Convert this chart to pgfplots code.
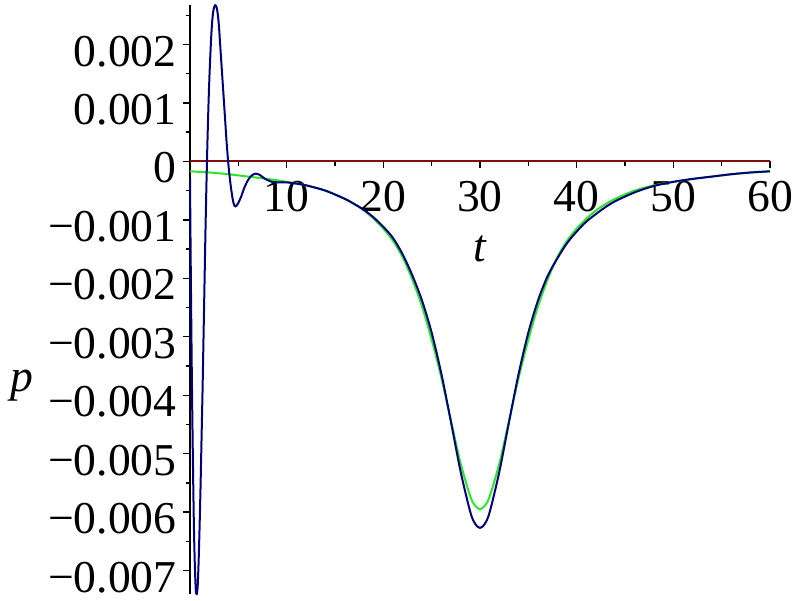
\documentclass[border=0pt]{standalone}
\usepackage{pgfplots}
\pgfplotsset{compat=1.18}
\usepackage{fontspec}
\setmainfont{Liberation Serif}
\definecolor{mred}{RGB}{130,15,15}
\definecolor{mgreen}{RGB}{40,230,40}
\definecolor{mblue}{RGB}{0,0,120}
\begin{document}
\begin{tikzpicture}
\begin{axis}[
  scale only axis,
  width=290pt, height=294.5pt,
  xmin=0, xmax=60, ymin=-0.0074, ymax=0.002675,
  axis lines=middle,
  clip=false,
  hide obscured x ticks=false,
  hide obscured y ticks=false,
  axis line style={-, line width=0.8pt, black},
  scaled ticks=false,
  xtick={10,20,30,40,50,60},
  minor xtick={5,15,25,35,45,55},
  ytick={-0.007,-0.006,-0.005,-0.004,-0.003,-0.002,-0.001,0,0.001,0.002},
  yticklabels={−0.007,−0.006,−0.005,−0.004,−0.003,−0.002,−0.001,0,0.001,0.002},
  minor ytick={-0.0065,-0.0055,-0.0045,-0.0035,-0.0025,-0.0015,-0.0005,0.0005,0.0015,0.0025},
  tick align=outside,
  major tick length=3.5pt,
  minor tick length=2.2pt,
  tick style={line width=0.7pt, black},
  tick label style={font=\fontsize{22.8}{27}\selectfont},
  xticklabel style={anchor=base, yshift=-21.5pt, inner sep=0pt},
  yticklabel style={anchor=base east, xshift=-3pt, yshift=-10.8pt, inner sep=0pt},
  /pgf/number format/assume math mode=true,
]
\addplot[mred, line width=1pt] coordinates {(0,0) (60,0)};
\addplot[mgreen, line width=1pt, smooth] coordinates {
(0,-0.00017) (2,-0.00019) (4,-0.00022) (6,-0.00026) (8,-0.00030) (10,-0.00035)
(12,-0.00041) (14,-0.00050) (16,-0.00064) (17,-0.00073) (18,-0.00084) (19,-0.00098)
(20,-0.00115) (21,-0.00136) (22,-0.00164) (23,-0.00202) (24,-0.00248) (25,-0.00305)
(26,-0.00370) (27,-0.00444) (28,-0.00517) (29,-0.00573) (29.5,-0.00589) (30,-0.00595)
(30.5,-0.00589) (31,-0.00573) (32,-0.00517) (33,-0.00444) (34,-0.00370) (35,-0.00305)
(36,-0.00248) (37,-0.00202) (38,-0.00164) (39,-0.00136) (40,-0.00115) (41,-0.00098)
(42,-0.00084) (43,-0.00073) (44,-0.00064) (46,-0.00050) (48,-0.00041) (50,-0.00035)
(52,-0.00030) (54,-0.00026) (56,-0.00022) (58,-0.00019) (60,-0.00017)};
\addplot[mblue, line width=1pt, smooth] coordinates {
(0,-0.00030) (0.1,-0.0022) (0.2,-0.0038) (0.3,-0.0051) (0.4,-0.0062) (0.5,-0.0069)
(0.6,-0.00733) (0.7,-0.00740) (0.8,-0.00725) (0.9,-0.0068) (1.0,-0.0062) (1.1,-0.0055)
(1.2,-0.0047) (1.3,-0.0039) (1.4,-0.0030) (1.5,-0.0021) (1.6,-0.0012) (1.7,-0.0004)
(1.8,0.0003) (1.9,0.0009) (2.0,0.0014) (2.1,0.0018) (2.2,0.00215) (2.3,0.0024)
(2.4,0.00256) (2.5,0.00264) (2.6,0.00267) (2.7,0.00266) (2.8,0.0026) (2.9,0.00248)
(3.0,0.0023) (3.2,0.0018) (3.4,0.0013) (3.6,0.0008) (3.8,0.0003) (4.0,-0.0001)
(4.2,-0.0004) (4.4,-0.00063) (4.5,-0.00071) (4.6,-0.00076) (4.7,-0.00077) (4.8,-0.00076)
(5.0,-0.00071) (5.3,-0.0006) (5.6,-0.00046) (6.0,-0.00032) (6.4,-0.00024) (6.8,-0.00021)
(7.2,-0.00023) (7.6,-0.00028) (8.0,-0.00032) (8.5,-0.00035) (9.0,-0.00036) (10.0,-0.00036)
(11.0,-0.00038) (12,-0.00041) (14,-0.00050) (16,-0.00064) (17,-0.00073) (18,-0.00083)
(19,-0.00096) (20,-0.00112) (21,-0.00131) (22,-0.00159) (23,-0.00195) (24,-0.00238)
(25,-0.00293) (26,-0.00363) (27,-0.00446) (28,-0.00531) (29,-0.00600) (29.5,-0.00620)
(30,-0.00627) (30.5,-0.00620) (31,-0.00600) (32,-0.00531) (33,-0.00446) (34,-0.00363)
(35,-0.00293) (36,-0.00238) (37,-0.00196) (38,-0.00166) (39,-0.00140) (40,-0.00120)
(41,-0.00103) (42,-0.00090) (43,-0.00078) (44,-0.00068) (46,-0.00053) (48,-0.00042)
(50,-0.00035) (52,-0.00030) (54,-0.00026) (56,-0.00022) (58,-0.00019) (60,-0.00017)};
\node[font=\fontsize{22.8}{27}\selectfont\itshape] at (axis cs:30,-0.00149) {t};
\node[font=\fontsize{22.8}{27}\selectfont\itshape, xshift=-84pt] at (axis cs:0,-0.00383) {p};
\coordinate (bl) at (rel axis cs:0,0);
\coordinate (tr) at (rel axis cs:1,1);
\end{axis}
\pgfresetboundingbox
\path[use as bounding box] ([shift={(-95pt,-3pt)}]bl) rectangle ([shift={(15pt,2.5pt)}]tr);
\end{tikzpicture}
\end{document}
